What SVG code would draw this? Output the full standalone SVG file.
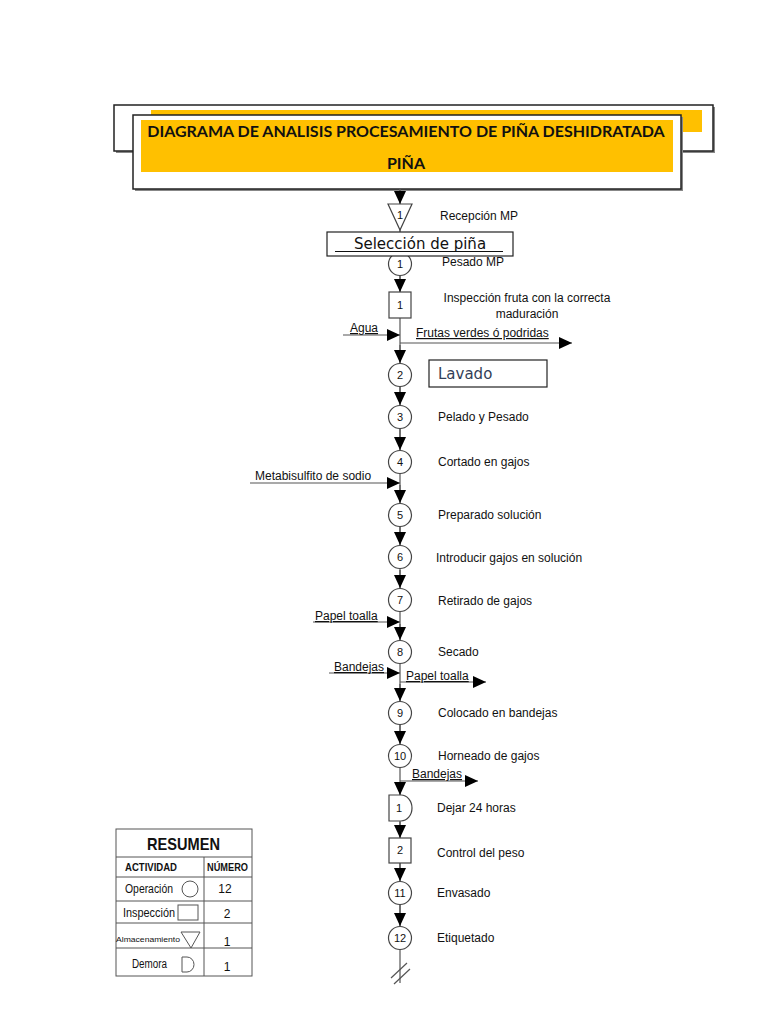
<svg xmlns="http://www.w3.org/2000/svg" width="768" height="1024" viewBox="0 0 768 1024">
<defs>
<style>
.lbl{font-family:"Liberation Sans",Arial,sans-serif;font-size:12px;fill:#111}
.num{font-family:"Liberation Sans",Arial,sans-serif;font-size:11px;fill:#111;text-anchor:middle}
.u{text-decoration:underline}
.shape{fill:#fff;stroke:#444;stroke-width:1.2}
.ln{stroke:#555;stroke-width:1.2;fill:none}
.tb{stroke:#555;stroke-width:1;fill:none}
.hdr{font-family:Lato,"Liberation Sans",sans-serif;font-weight:bold;font-size:16px;fill:#111;text-anchor:middle}
.tt{font-family:"Liberation Sans",Arial,sans-serif;fill:#111}
</style>
<marker id="ah" viewBox="0 0 13 12" refX="13" refY="6" markerWidth="13" markerHeight="12" markerUnits="userSpaceOnUse" orient="auto">
<path d="M0,0 L13,6 L0,12 z" fill="#000"/>
</marker>
</defs>
<rect width="768" height="1024" fill="#fff"/>

<g id="header">
<rect x="116" y="107" width="599" height="46" fill="#888"/>
<rect x="114" y="105" width="599" height="46" fill="#fff" stroke="#222" stroke-width="1.5"/>
<rect x="151" y="110" width="551" height="22" fill="#FFC000"/>
<rect x="135" y="117" width="548" height="74" fill="#888"/>
<rect x="133" y="115" width="548" height="74" fill="#fff" stroke="#222" stroke-width="1.5"/>
<rect x="141" y="120" width="532" height="52" fill="#FFC000"/>
<text class="hdr" x="406" y="137">DIAGRAMA DE ANALISIS PROCESAMIENTO DE PIÑA DESHIDRATADA</text>
<text class="hdr" x="406" y="169">PIÑA</text>
</g>

<g id="connectors">
<path class="ln" d="M400,189 V983"/>
<path class="ln" d="M400,189 V204" marker-end="url(#ah)"/>
<path class="ln" d="M400,276 V292" marker-end="url(#ah)"/>
<path class="ln" d="M400,345 V363" marker-end="url(#ah)"/>
<path class="ln" d="M400,387 V405" marker-end="url(#ah)"/>
<path class="ln" d="M400,429 V450" marker-end="url(#ah)"/>
<path class="ln" d="M400,485 V503" marker-end="url(#ah)"/>
<path class="ln" d="M400,527 V545" marker-end="url(#ah)"/>
<path class="ln" d="M400,570 V588" marker-end="url(#ah)"/>
<path class="ln" d="M400,624 V640" marker-end="url(#ah)"/>
<path class="ln" d="M400,684 V701" marker-end="url(#ah)"/>
<path class="ln" d="M400,725 V744" marker-end="url(#ah)"/>
<path class="ln" d="M400,783 V795" marker-end="url(#ah)"/>
<path class="ln" d="M400,822 V838" marker-end="url(#ah)"/>
<path class="ln" d="M400,863 V881" marker-end="url(#ah)"/>
<path class="ln" d="M400,905 V926" marker-end="url(#ah)"/>
<path class="ln" d="M343,335 H400" marker-end="url(#ah)"/>
<path class="ln" d="M400,343 H572" marker-end="url(#ah)"/>
<path class="ln" d="M250,483 H400" marker-end="url(#ah)"/>
<path class="ln" d="M313,622 H400" marker-end="url(#ah)"/>
<path class="ln" d="M329,673 H400" marker-end="url(#ah)"/>
<path class="ln" d="M400,682 H486" marker-end="url(#ah)"/>
<path class="ln" d="M400,781 H478" marker-end="url(#ah)"/>
<path class="ln" d="M391,978 L407,963 M394,984 L410,969"/>
<text class="lbl u" x="350" y="332">Agua</text>
<text class="lbl u" x="416" y="337">Frutas verdes ó podridas</text>
<text class="lbl" x="255" y="480">Metabisulfito de sodio</text>
<text class="lbl u" x="315" y="620">Papel toalla</text>
<text class="lbl u" x="334" y="671">Bandejas</text>
<text class="lbl u" x="406" y="680">Papel toalla</text>
<text class="lbl u" x="412" y="778">Bandejas</text>
</g>

<g id="recepcion">
<polygon class="shape" points="388,204 412,204 400,230"/>
<text class="num" x="400" y="219">1</text>
<text class="lbl" x="440" y="220">Recepción MP</text>
</g>

<g id="pesado">
<circle class="shape" cx="400" cy="264" r="11.5"/>
<text class="num" x="400" y="268">1</text>
<text class="lbl" x="442" y="266">Pesado MP</text>
</g>

<g id="seleccion">
<rect x="327" y="232" width="186" height="24" fill="#fff" stroke="#222" stroke-width="1.2"/>
<text x="420" y="249" text-anchor="middle" style="font-family:'DejaVu Sans',sans-serif;font-size:15px;fill:#111">Selección de piña</text>
<line x1="335" y1="251.5" x2="503" y2="251.5" stroke="#111" stroke-width="1"/>
</g>

<g id="inspeccion1">
<rect class="shape" x="389" y="292" width="22" height="26"/>
<text class="num" x="400" y="309">1</text>
<text class="lbl" x="527" y="302" text-anchor="middle">Inspección fruta con la correcta</text>
<text class="lbl" x="527" y="318" text-anchor="middle">maduración</text>
</g>

<g id="lavado">
<circle class="shape" cx="400" cy="375" r="11.5"/>
<text class="num" x="400" y="379">2</text>
<rect x="429" y="360" width="118" height="27" fill="#fff" stroke="#222" stroke-width="1.2"/>
<text x="438" y="379" style="font-family:'DejaVu Sans',sans-serif;font-size:15px;fill:#333f58">Lavado</text>
</g>

<g id="op3">
<circle class="shape" cx="400" cy="417" r="11.5"/>
<text class="num" x="400" y="421">3</text>
<text class="lbl" x="438" y="421">Pelado y Pesado</text>
</g>
<g id="op4">
<circle class="shape" cx="400" cy="462" r="11.5"/>
<text class="num" x="400" y="466">4</text>
<text class="lbl" x="438" y="466">Cortado en gajos</text>
</g>
<g id="op5">
<circle class="shape" cx="400" cy="515" r="11.5"/>
<text class="num" x="400" y="519">5</text>
<text class="lbl" x="438" y="519">Preparado solución</text>
</g>
<g id="op6">
<circle class="shape" cx="400" cy="557" r="11.5"/>
<text class="num" x="400" y="561">6</text>
<text class="lbl" x="436" y="562">Introducir gajos en solución</text>
</g>
<g id="op7">
<circle class="shape" cx="400" cy="600" r="11.5"/>
<text class="num" x="400" y="604">7</text>
<text class="lbl" x="438" y="605">Retirado de gajos</text>
</g>
<g id="op8">
<circle class="shape" cx="400" cy="652" r="11.5"/>
<text class="num" x="400" y="656">8</text>
<text class="lbl" x="438" y="656">Secado</text>
</g>
<g id="op9">
<circle class="shape" cx="400" cy="713" r="11.5"/>
<text class="num" x="400" y="717">9</text>
<text class="lbl" x="438" y="717">Colocado en bandejas</text>
</g>
<g id="op10">
<circle class="shape" cx="400" cy="756" r="11.5"/>
<text class="num" x="400" y="760">10</text>
<text class="lbl" x="438" y="760">Horneado de gajos</text>
</g>
<g id="demora1">
<path class="shape" d="M389,795 H401 A11,13 0 0 1 401,821 H389 Z"/>
<text class="num" x="399" y="812">1</text>
<text class="lbl" x="437" y="812">Dejar 24 horas</text>
</g>
<g id="inspeccion2">
<rect class="shape" x="389" y="838" width="22" height="25"/>
<text class="num" x="400" y="854">2</text>
<text class="lbl" x="437" y="857">Control del peso</text>
</g>
<g id="op11">
<circle class="shape" cx="400" cy="893" r="11.5"/>
<text class="num" x="400" y="897">11</text>
<text class="lbl" x="437" y="897">Envasado</text>
</g>
<g id="op12">
<circle class="shape" cx="400" cy="938" r="11.5"/>
<text class="num" x="400" y="942">12</text>
<text class="lbl" x="437" y="942">Etiquetado</text>
</g>

<g id="resumen">
<rect class="tb" x="116" y="829" width="136" height="147"/>
<line class="tb" x1="116" y1="857" x2="252" y2="857"/>
<line class="tb" x1="116" y1="877" x2="252" y2="877"/>
<line class="tb" x1="116" y1="901" x2="252" y2="901"/>
<line class="tb" x1="116" y1="923" x2="252" y2="923"/>
<line class="tb" x1="116" y1="948" x2="252" y2="948"/>
<line class="tb" x1="204" y1="857" x2="204" y2="976"/>
<text class="tt" x="147" y="850" font-size="17" font-weight="bold" textLength="73" lengthAdjust="spacingAndGlyphs">RESUMEN</text>
<text class="tt" x="125" y="871" font-size="10" font-weight="bold" textLength="52" lengthAdjust="spacingAndGlyphs">ACTIVIDAD</text>
<text class="tt" x="207" y="871" font-size="10" font-weight="bold" textLength="41" lengthAdjust="spacingAndGlyphs">NÚMERO</text>
<text class="tt" x="125" y="893" font-size="12" textLength="48" lengthAdjust="spacingAndGlyphs">Operación</text>
<circle cx="190" cy="889" r="8" fill="none" stroke="#555" stroke-width="1"/>
<text class="tt" x="225" y="893" text-anchor="middle" font-size="12">12</text>
<text class="tt" x="123" y="917" font-size="12" textLength="52" lengthAdjust="spacingAndGlyphs">Inspección</text>
<rect x="178" y="905" width="20" height="15" fill="none" stroke="#555" stroke-width="1"/>
<text class="tt" x="227" y="918" text-anchor="middle" font-size="12">2</text>
<text class="tt" x="116" y="942" font-size="8" textLength="64" lengthAdjust="spacingAndGlyphs">Almacenamiento</text>
<polygon points="181,932 200,932 191,948" fill="none" stroke="#555" stroke-width="1"/>
<text class="tt" x="227" y="946" text-anchor="middle" font-size="12">1</text>
<text class="tt" x="132" y="968" font-size="12" textLength="35" lengthAdjust="spacingAndGlyphs">Demora</text>
<path d="M182,957 H187 A7,7.5 0 0 1 187,972 H182 Z" fill="none" stroke="#555" stroke-width="1"/>
<text class="tt" x="227" y="971" text-anchor="middle" font-size="12">1</text>
</g>
</svg>
